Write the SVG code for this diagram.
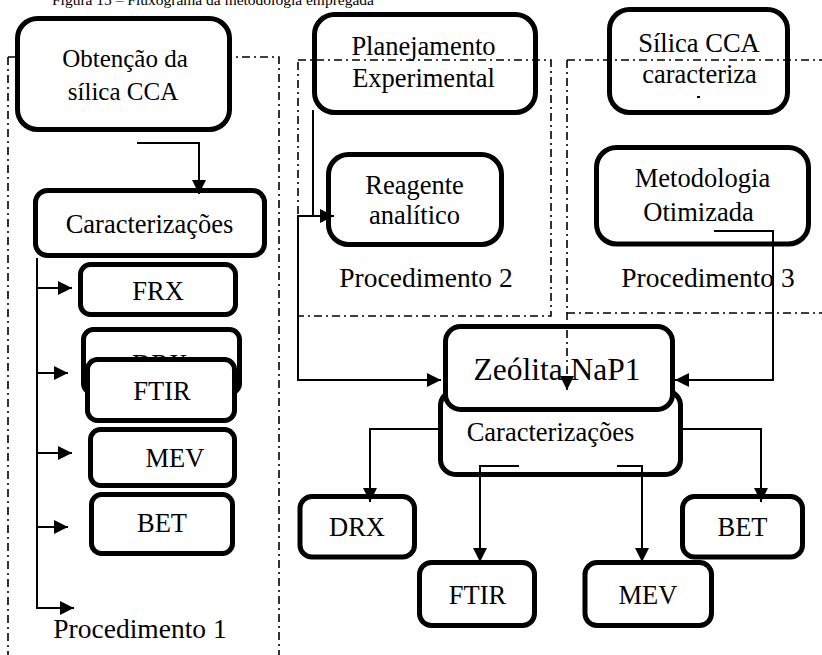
<svg xmlns="http://www.w3.org/2000/svg" width="822" height="655" viewBox="0 0 822 655">
<style>
.box{fill:#fff;stroke:#000;stroke-width:5}
.t{font-family:"Liberation Serif","Times New Roman",serif;font-size:26.5px;fill:#000;text-anchor:middle}
.proc{font-size:27.5px}
.con{fill:none;stroke:#000;stroke-width:2}
.dd{fill:none;stroke:#000;stroke-width:1.6;stroke-dasharray:8 4 2 4}
</style>
<defs>
<marker id="ah" markerUnits="userSpaceOnUse" markerWidth="15" markerHeight="14" refX="14" refY="7" orient="auto">
<path d="M0,0 L14,7 L0,14 z" fill="#000"/>
</marker>
</defs>
<rect width="822" height="655" fill="#fff"/>
<text x="52" y="5" style="font-family:'Liberation Serif',serif;font-size:15.5px">Figura 15 – Fluxograma da metodologia empregada</text>
<g id="frame1">
<path class="dd" d="M8,57 H279 V655 M8,57 V655"/>
<text class="t proc" x="140" y="638">Procedimento 1</text>
</g>
<g id="n-obtencao"><rect class="box" x="17.5" y="18.5" width="212" height="111" rx="20"/><text class="t" style="font-size:25px" x="125" y="67">Obtenção da</text><text class="t" style="font-size:25px" x="123" y="100">sílica CCA</text></g>
<g id="n-caract1"><rect class="box" x="35.5" y="190.5" width="229" height="65" rx="12"/><text class="t" x="149.5" y="233">Caracterizações</text></g>
<g id="n-frx1"><rect class="box" x="80.5" y="264.5" width="155" height="50" rx="10"/><text class="t" x="158" y="300">FRX</text></g>
<g id="n-drx1"><rect class="box" x="83.5" y="329.5" width="156" height="64" rx="10"/><text class="t" x="160" y="373">DRX</text></g>
<g id="n-ftir1"><rect class="box" x="87.5" y="359.5" width="147" height="61" rx="10"/><text class="t" x="162" y="400">FTIR</text></g>
<g id="n-mev1"><rect class="box" x="90.5" y="429.5" width="144" height="56" rx="10"/><text class="t" x="175" y="467">MEV</text></g>
<g id="n-bet1"><rect class="box" x="91.5" y="494.5" width="141" height="59" rx="10"/><text class="t" x="162" y="532">BET</text></g>
<g id="n-planej"><rect class="box" x="314.5" y="14.5" width="221" height="98" rx="20"/><text class="t" x="423.5" y="55">Planejamento</text><text class="t" x="423.5" y="87">Experimental</text></g>
<g id="n-reag"><rect class="box" x="328.5" y="154.5" width="173" height="90" rx="20"/><text class="t" x="414.5" y="194">Reagente</text><text class="t" x="414.5" y="224">analítico</text></g>
<g id="n-silica"><rect class="box" x="609.5" y="9.5" width="178" height="103" rx="20"/><text class="t" x="699" y="52">Sílica CCA</text><text class="t" x="699.5" y="83">caracteriza</text><rect x="697" y="96" width="3" height="2" fill="#000"/></g>
<g id="n-metod"><rect class="box" x="596.5" y="147.5" width="212" height="96.5" rx="20"/><text class="t" x="702.5" y="187">Metodologia</text><text class="t" x="698.5" y="221">Otimizada</text></g>
<g id="n-caract2"><rect class="box" x="440.5" y="390.5" width="240" height="84" rx="15"/><text class="t" x="550.5" y="441">Caracterizações</text></g>
<g id="n-zeolita"><rect class="box" x="445.5" y="326.5" width="227" height="83" rx="15"/><text class="t" style="font-size:31.5px" x="557" y="380">Zeólita NaP1</text></g>
<g id="n-drx2"><rect class="box" x="300" y="496.5" width="114.5" height="60.5" rx="12"/><text class="t" x="357" y="536">DRX</text></g>
<g id="n-bet2"><rect class="box" x="682.5" y="496.5" width="120" height="60.5" rx="12"/><text class="t" x="742.5" y="536">BET</text></g>
<g id="n-ftir2"><rect class="box" x="419.5" y="562.5" width="115" height="63" rx="12"/><text class="t" x="477.5" y="604">FTIR</text></g>
<g id="n-mev2"><rect class="box" x="585" y="562.5" width="126.5" height="63" rx="12"/><text class="t" x="648" y="604">MEV</text></g>
<g id="connectors">
<path class="con" d="M137,143 H199 V194" marker-end="url(#ah)"/>
<path class="con" d="M37,258 V608 H74" marker-end="url(#ah)"/>
<path class="con" d="M37,288 H72" marker-end="url(#ah)"/>
<path class="con" d="M37,373 H68" marker-end="url(#ah)"/>
<path class="con" d="M37,453 H72" marker-end="url(#ah)"/>
<path class="con" d="M37,527 H68" marker-end="url(#ah)"/>
<path class="con" d="M313,110 V216"/>
<path class="con" d="M297,216 H334" marker-end="url(#ah)"/>
<path class="con" d="M298,216 V380 H441" marker-end="url(#ah)"/>
<path class="con" d="M714,231 H773 V380 H675" marker-end="url(#ah)"/>
<path class="con" d="M439,429 H370 V502" marker-end="url(#ah)"/>
<path class="con" d="M683,429 H761 V502" marker-end="url(#ah)"/>
<path class="con" d="M519,466 H480 V562" marker-end="url(#ah)"/>
<path class="con" d="M617,466 H642 V562" marker-end="url(#ah)"/>
<path class="dd" d="M567,60 V390" marker-end="url(#ah)"/>
</g>
<g id="frame2">
<path class="dd" d="M298,60 H551 V316 H298 Z"/>
<text class="t proc" x="426" y="287">Procedimento 2</text>
</g>
<g id="frame3">
<path class="dd" d="M567,60 H822 M567,313 H822"/>
<text class="t proc" x="708" y="287">Procedimento 3</text>
</g>
</svg>
